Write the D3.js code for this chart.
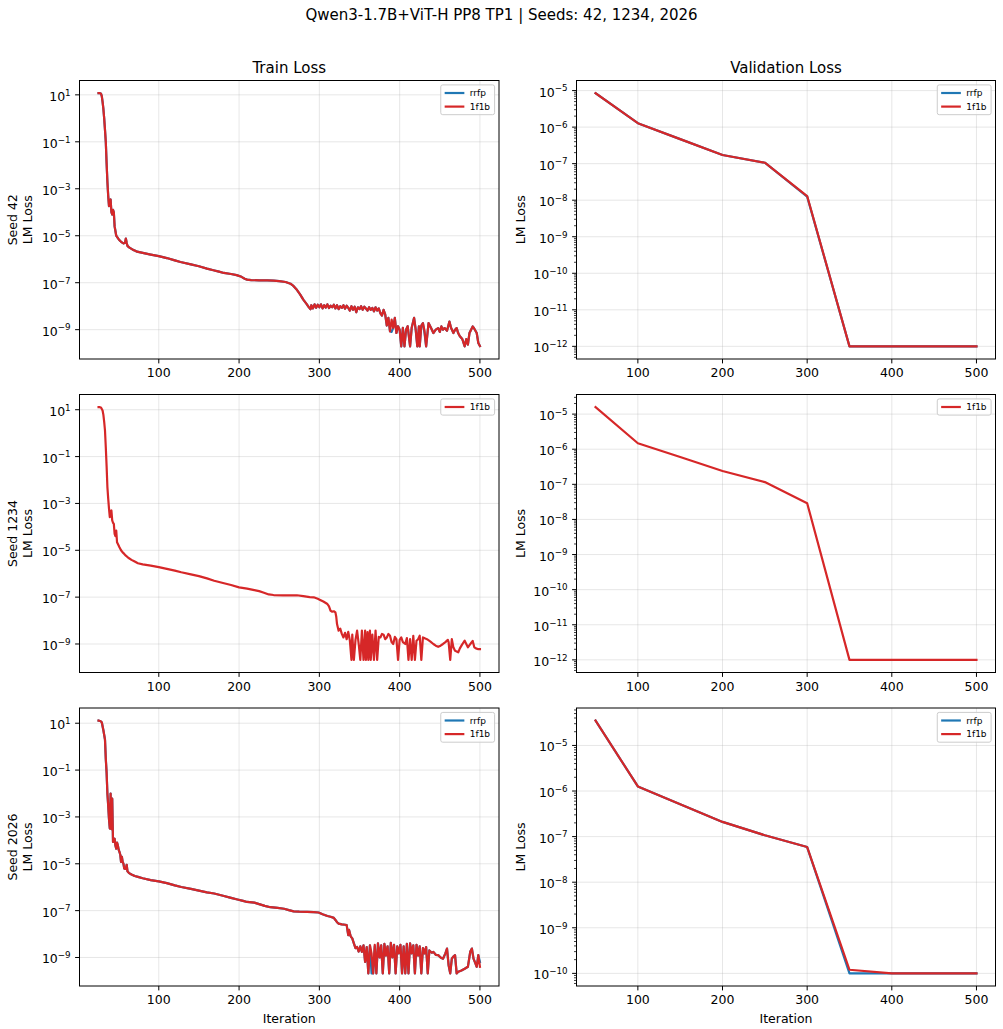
<!DOCTYPE html>
<html><head><meta charset="utf-8">
<script src="https://cdn.jsdelivr.net/npm/d3@7"></script>
<style>body{margin:0;background:#fff} svg{font-family:"DejaVu Sans",sans-serif}</style>
</head><body><svg id="c" width="1003" height="1029"></svg>
<script>
// ---------------- data ----------------
const seeds = [42, 1234, 2026];
const seriesNames = ["rrfp", "1f1b"];
const seriesColors = {"rrfp": "#1f77b4", "1f1b": "#d62728"};
const suptitle = "Qwen3-1.7B+ViT-H PP8 TP1 | Seeds: 42, 1234, 2026";
const colTitles = ["Train Loss", "Validation Loss"];
const xTickValues = [100, 200, 300, 400, 500];
const trainTickExps = [1, -1, -3, -5, -7, -9];

// train loss, [iteration, loss]
const train42_1f1b = [[25,11.8],[26,11.8],[27,11.7],[28,11.2],[29,8.9],[30,5.0],[31,2.5],[32,1.0],[33,0.32],[34,0.1],[35,1.26e-2],[36,2.0e-3],[37,5.0e-4],[38,1.8e-4],[39,2.5e-4],[40,3.5e-4],[41,1.0e-4],[42,8.0e-5],[43,1.26e-4],[44,1.0e-4],[45,2.5e-5],[46,1.6e-5],[47,1.0e-5],[48,8.9e-6],[50,7.1e-6],[52,6.0e-6],[54,5.2e-6],[56,4.7e-6],[58,5.0e-6],[59,7.6e-6],[60,5.0e-6],[61,3.7e-6],[63,3.2e-6],[65,2.9e-6],[68,2.5e-6],[70,2.35e-6],[73,2.1e-6],[80,1.86e-6],[90,1.58e-6],[100,1.35e-6],[110,1.12e-6],[120,8.9e-7],[127,7.6e-7],[140,6.0e-7],[150,5.0e-7],[160,4.0e-7],[168,3.4e-7],[175,2.95e-7],[181,2.6e-7],[190,2.35e-7],[197,2.1e-7],[203,1.78e-7],[207,1.48e-7],[210,1.35e-7],[215,1.29e-7],[225,1.26e-7],[235,1.26e-7],[243,1.23e-7],[250,1.17e-7],[258,1.07e-7],[264,9.1e-8],[268,7.1e-8],[272,5.0e-8],[276,3.2e-8],[280,1.9e-8],[284,1.26e-8],[287,8.9e-9],[289,7.4e-9],[290,1.1e-8],[292,8.0e-9],[294,1.2e-8],[296,8.5e-9],[298,1.15e-8],[300,9.0e-9],[302,1.2e-8],[304,8.0e-9],[306,1.1e-8],[308,8.8e-9],[310,1.2e-8],[312,8.3e-9],[314,1.05e-8],[316,9.0e-9],[318,1.15e-8],[320,8.0e-9],[322,1.1e-8],[324,7.5e-9],[326,1.0e-8],[328,8.5e-9],[330,1.1e-8],[332,7.8e-9],[334,1.05e-8],[336,8.5e-9],[338,6.5e-9],[340,1.0e-8],[342,7.0e-9],[344,9.5e-9],[346,5.5e-9],[348,9.0e-9],[350,7.5e-9],[352,1.0e-8],[354,7.0e-9],[356,9.5e-9],[358,8.0e-9],[360,6.5e-9],[362,9.0e-9],[364,7.0e-9],[366,8.5e-9],[368,6.0e-9],[370,9.0e-9],[372,6.5e-9],[374,8.0e-9],[376,5.0e-9],[378,4.0e-9],[380,7.0e-9],[382,4.5e-9],[384,1.5e-9],[386,3.2e-9],[388,8.5e-10],[390,2.7e-9],[392,1.2e-9],[394,3.2e-9],[396,7.2e-10],[398,1.4e-9],[400,1.0e-9],[402,1.95e-10],[404,1.2e-9],[406,1.95e-10],[408,1.0e-9],[410,1.4e-9],[413,1.95e-10],[415,1.2e-9],[418,3.2e-9],[420,1.0e-9],[422,1.95e-10],[424,1.4e-9],[425,1.95e-10],[427,1.5e-9],[429,1.9e-9],[431,9.0e-10],[433,1.95e-10],[436,1.9e-9],[439,1.2e-9],[442,7.2e-10],[445,1.0e-9],[448,1.17e-9],[450,8.0e-10],[452,1.38e-9],[454,1.0e-9],[456,1.17e-9],[459,9.0e-10],[462,2.2e-9],[464,1.2e-9],[467,7.2e-10],[469,1.0e-9],[471,1.17e-9],[473,7.0e-10],[475,5.2e-10],[478,4.0e-10],[481,1.95e-10],[483,4.0e-10],[485,2.3e-10],[487,7.2e-10],[489,1.0e-9],[491,1.38e-9],[493,1.1e-9],[496,7.2e-10],[498,2.7e-10],[500,2.0e-10]];

const train42_rrfp = [[25,11.8],[26,11.8],[27,11.7],[28,11.2],[29,8.9],[30,5.0],[31,2.5],[32,1.0],[33,0.32],[34,0.1],[35,1.26e-2],[36,2.0e-3],[37,5.0e-4],[38,1.8e-4],[39,2.5e-4],[40,3.5e-4],[41,1.0e-4],[42,8.0e-5],[43,1.26e-4],[44,1.0e-4],[45,2.5e-5],[46,1.6e-5],[47,1.0e-5],[48,8.9e-6],[50,7.1e-6],[52,6.0e-6],[54,5.2e-6],[56,4.7e-6],[58,5.0e-6],[59,7.6e-6],[60,5.0e-6],[61,3.7e-6],[63,3.2e-6],[65,2.9e-6],[68,2.5e-6],[70,2.35e-6],[73,2.1e-6],[80,1.86e-6],[90,1.58e-6],[100,1.35e-6],[110,1.12e-6],[120,8.9e-7],[127,7.6e-7],[140,6.0e-7],[150,5.0e-7],[160,4.0e-7],[168,3.4e-7],[175,2.95e-7],[181,2.6e-7],[190,2.35e-7],[197,2.1e-7],[203,1.78e-7],[207,1.48e-7],[210,1.35e-7],[215,1.29e-7],[225,1.26e-7],[235,1.26e-7],[243,1.23e-7],[250,1.17e-7],[258,1.07e-7],[264,9.1e-8],[268,7.1e-8],[272,5.0e-8],[276,3.2e-8],[280,1.9e-8],[284,1.26e-8],[287,8.9e-9],[289,7.4e-9],[290,1.1e-8],[292,8.0e-9],[294,1.2e-8],[296,8.5e-9],[298,1.15e-8],[300,9.0e-9],[302,1.2e-8],[304,8.0e-9],[306,1.1e-8],[308,8.8e-9],[310,1.2e-8],[312,8.3e-9],[314,1.05e-8],[316,9.0e-9],[318,1.15e-8],[320,8.0e-9],[322,1.1e-8],[324,7.5e-9],[326,1.0e-8],[328,8.5e-9],[330,1.1e-8],[332,7.8e-9],[334,1.05e-8],[336,8.5e-9],[338,6.5e-9],[340,1.0e-8],[342,7.0e-9],[344,9.5e-9],[346,5.5e-9],[348,9.0e-9],[350,7.5e-9],[352,1.0e-8],[354,7.0e-9],[356,9.5e-9],[358,8.0e-9],[360,6.5e-9],[362,9.0e-9],[364,7.0e-9],[366,8.5e-9],[368,6.0e-9],[370,9.0e-9],[372,6.5e-9],[374,8.0e-9],[376,5.0e-9],[378,4.0e-9],[380,7.0e-9],[382,4.5e-9],[384,1.5e-9],[386,3.2e-9],[388,8.5e-10],[390,8.0e-10],[392,1.2e-9],[394,3.2e-9],[396,7.2e-10],[398,1.4e-9],[400,1.0e-9],[402,1.95e-10],[404,1.2e-9],[406,1.95e-10],[408,1.0e-9],[410,1.4e-9],[413,1.95e-10],[415,1.2e-9],[418,3.2e-9],[420,1.0e-9],[422,1.95e-10],[424,1.4e-9],[425,1.95e-10],[427,1.5e-9],[429,1.9e-9],[431,7.0e-10],[433,1.95e-10],[436,1.9e-9],[439,1.2e-9],[442,7.2e-10],[445,1.0e-9],[448,1.17e-9],[450,8.0e-10],[452,1.38e-9],[454,1.0e-9],[456,1.17e-9],[459,9.0e-10],[462,2.2e-9],[464,1.2e-9],[467,7.2e-10],[469,1.0e-9],[471,1.17e-9],[473,7.0e-10],[475,5.2e-10],[478,4.0e-10],[481,1.95e-10],[483,4.0e-10],[485,2.3e-10],[487,7.2e-10],[489,1.0e-9],[491,1.38e-9],[493,1.1e-9],[496,7.2e-10],[498,2.7e-10],[500,2.0e-10]];

const train1234_1f1b = [[25,12.9],[26,12.9],[28,12.5],[30,9.3],[31,6.0],[32,3.0],[33,1.3],[34,0.25],[35,0.04],[36,5.0e-3],[37,1.6e-3],[38,6.0e-4],[39,2.6e-4],[40,4.0e-4],[41,5.0e-4],[42,1.9e-4],[43,1.5e-4],[44,1.35e-4],[45,5.0e-5],[46,4.0e-5],[47,6.9e-5],[48,2.2e-5],[50,1.6e-5],[51,1.35e-5],[53,1.0e-5],[55,8.1e-6],[57,7.0e-6],[59,5.9e-6],[62,4.8e-6],[66,3.9e-6],[70,3.3e-6],[74,2.8e-6],[80,2.5e-6],[90,2.2e-6],[100,1.9e-6],[110,1.6e-6],[120,1.35e-6],[128,1.15e-6],[140,9.3e-7],[150,7.9e-7],[160,6.3e-7],[169,5.0e-7],[180,4.0e-7],[190,3.3e-7],[200,2.6e-7],[210,2.3e-7],[219,2.0e-7],[225,1.8e-7],[231,1.55e-7],[237,1.3e-7],[243,1.23e-7],[255,1.2e-7],[265,1.2e-7],[272,1.2e-7],[280,1.1e-7],[288,1.0e-7],[293,9.8e-8],[298,8.5e-8],[301,7.6e-8],[305,6.5e-8],[310,5.1e-8],[312,4.0e-8],[314,2.6e-8],[316,2.4e-8],[318,2.5e-8],[320,2.24e-8],[321,1.5e-8],[322,7.1e-9],[324,3.7e-9],[326,4.5e-9],[328,2.7e-9],[330,1.9e-9],[332,3.0e-9],[334,1.6e-9],[336,3.3e-9],[338,1.4e-9],[340,2.1e-10],[341,2.5e-9],[343,2.1e-10],[345,1.5e-9],[347,3.7e-9],[349,1.0e-9],[351,2.1e-10],[353,3.7e-9],[355,2.1e-10],[357,3.7e-9],[358,2.1e-10],[360,3.2e-9],[361,2.1e-10],[363,3.7e-9],[364,2.1e-10],[366,2.5e-9],[368,2.1e-10],[370,3.7e-9],[372,2.1e-10],[374,2.0e-9],[376,1.9e-9],[378,2.7e-9],[380,2.5e-9],[382,1.6e-9],[384,1.9e-9],[386,2.7e-9],[388,2.25e-9],[390,1.2e-9],[392,1.0e-9],[394,2.0e-9],[396,1.6e-9],[398,2.1e-10],[400,1.5e-9],[402,1.9e-9],[404,1.2e-9],[407,1.0e-9],[409,1.8e-9],[411,2.1e-10],[413,1.6e-9],[415,2.1e-10],[417,2.25e-9],[419,2.1e-10],[421,1.38e-9],[423,1.6e-9],[425,2.25e-9],[427,2.1e-10],[429,1.9e-9],[432,1.7e-9],[434,1.6e-9],[438,1.3e-9],[442,1.0e-9],[445,8.5e-10],[448,7.6e-10],[451,8.5e-10],[454,1.0e-9],[457,1.2e-9],[460,1.5e-9],[461,1.2e-9],[463,2.1e-10],[465,1.6e-9],[467,7.0e-10],[469,5.1e-10],[471,4.8e-10],[473,4.4e-10],[475,6.5e-10],[477,8.5e-10],[479,1.1e-9],[481,1.38e-9],[483,1.0e-9],[485,7.2e-10],[487,9.0e-10],[489,1.1e-9],[491,1.35e-9],[493,7.2e-10],[495,6.5e-10],[498,6.0e-10],[500,6.0e-10]];

const train2026_1f1b = [[25,12.9],[27,12.5],[29,11.0],[31,5.0],[33,2.0],[34,0.3],[35,0.08],[36,0.01],[37,3.0e-3],[38,8.0e-4],[39,3.2e-4],[40,1.0e-2],[41,3.0e-4],[42,6.0e-3],[43,8.5e-5],[44,1.2e-4],[45,1.17e-4],[46,6.0e-5],[47,4.4e-5],[48,8.0e-5],[49,6.2e-5],[50,4.0e-5],[51,3.2e-5],[52,2.5e-5],[53,1.2e-5],[54,2.0e-5],[55,1.2e-5],[56,1.0e-5],[57,6.2e-6],[59,6.0e-6],[60,9.1e-6],[61,4.8e-6],[63,4.0e-6],[66,3.5e-6],[70,3.0e-6],[74,2.75e-6],[80,2.4e-6],[90,2.0e-6],[100,1.78e-6],[110,1.5e-6],[120,1.2e-6],[128,1.02e-6],[140,8.5e-7],[150,7.2e-7],[160,6.0e-7],[169,5.4e-7],[180,4.3e-7],[190,3.5e-7],[198,3.0e-7],[205,2.6e-7],[210,2.35e-7],[219,2.2e-7],[225,1.9e-7],[232,1.6e-7],[239,1.4e-7],[248,1.3e-7],[256,1.2e-7],[262,1.05e-7],[268,9.3e-8],[275,9.0e-8],[285,8.9e-8],[293,8.7e-8],[299,8.3e-8],[304,7.0e-8],[310,5.9e-8],[314,5.5e-8],[318,4.9e-8],[320,4.0e-8],[322,3.2e-8],[324,2.8e-8],[328,2.6e-8],[332,2.5e-8],[334,2.4e-8],[336,9.0e-9],[337,1.5e-8],[339,8.0e-9],[341,6.5e-9],[343,4.0e-9],[345,2.5e-9],[347,2.8e-9],[349,1.8e-9],[351,3.0e-9],[353,1.74e-9],[355,3.3e-9],[357,6.5e-10],[359,2.8e-9],[361,2.1e-10],[363,3.3e-9],[365,1.5e-9],[367,2.1e-10],[369,3.5e-9],[371,2.1e-10],[373,4.0e-9],[375,1.0e-9],[377,3.3e-9],[379,2.1e-10],[381,3.8e-9],[383,1.2e-9],[385,3.0e-9],[387,2.1e-10],[389,4.2e-9],[391,1.0e-9],[393,3.5e-9],[395,2.1e-10],[397,3.0e-9],[399,1.5e-9],[401,3.5e-9],[403,2.1e-10],[405,3.0e-9],[407,2.1e-10],[409,3.8e-9],[411,2.1e-10],[413,4.0e-9],[415,1.5e-9],[417,3.3e-9],[419,2.1e-10],[421,3.5e-9],[423,1.2e-9],[425,3.0e-9],[427,2.1e-10],[429,2.5e-9],[431,1.5e-9],[433,2.8e-9],[435,2.1e-10],[437,2.0e-9],[440,1.6e-9],[442,1.74e-9],[445,1.3e-9],[448,1.26e-9],[451,1.0e-9],[454,8.9e-10],[457,1.5e-9],[459,2.4e-9],[461,4.7e-10],[463,2.1e-10],[465,8.9e-10],[467,1.1e-9],[469,1.26e-9],[471,2.1e-10],[473,2.45e-10],[477,2.8e-10],[481,3.3e-10],[485,4.0e-10],[488,1.8e-9],[490,2.4e-9],[492,8.9e-10],[494,6.0e-10],[496,4.0e-10],[498,1.26e-9],[500,4.0e-10]];

const train2026_rrfp = [[25,12.9],[27,12.5],[29,11.0],[31,5.0],[33,2.0],[34,0.3],[35,0.08],[36,0.01],[37,3.0e-3],[38,8.0e-4],[39,3.2e-4],[40,1.0e-2],[41,3.0e-4],[42,6.0e-3],[43,8.5e-5],[44,1.2e-4],[45,1.17e-4],[46,6.0e-5],[47,4.4e-5],[48,8.0e-5],[49,6.2e-5],[50,4.0e-5],[51,3.2e-5],[52,2.5e-5],[53,1.2e-5],[54,2.0e-5],[55,1.2e-5],[56,1.0e-5],[57,6.2e-6],[59,6.0e-6],[60,9.1e-6],[61,4.8e-6],[63,4.0e-6],[66,3.5e-6],[70,3.0e-6],[74,2.75e-6],[80,2.4e-6],[90,2.0e-6],[100,1.78e-6],[110,1.5e-6],[120,1.2e-6],[128,1.02e-6],[140,8.5e-7],[150,7.2e-7],[160,6.0e-7],[169,5.4e-7],[180,4.3e-7],[190,3.5e-7],[198,3.0e-7],[205,2.6e-7],[210,2.35e-7],[219,2.2e-7],[225,1.9e-7],[232,1.6e-7],[239,1.4e-7],[248,1.3e-7],[256,1.2e-7],[262,1.05e-7],[268,9.3e-8],[275,9.0e-8],[285,8.9e-8],[293,8.7e-8],[299,8.3e-8],[304,7.0e-8],[310,5.9e-8],[314,5.5e-8],[318,4.9e-8],[320,4.0e-8],[322,3.2e-8],[324,2.8e-8],[328,2.6e-8],[332,2.5e-8],[334,2.4e-8],[336,9.0e-9],[337,1.5e-8],[339,8.0e-9],[341,6.5e-9],[343,4.0e-9],[345,2.5e-9],[347,2.8e-9],[349,1.8e-9],[351,3.0e-9],[353,1.74e-9],[355,3.3e-9],[357,6.5e-10],[359,2.8e-9],[361,2.1e-10],[363,3.3e-9],[365,2.1e-10],[367,2.1e-10],[369,3.0e-9],[371,2.1e-10],[373,4.0e-9],[375,1.0e-9],[377,3.3e-9],[379,2.1e-10],[381,3.8e-9],[383,1.2e-9],[385,3.0e-9],[387,2.1e-10],[389,4.2e-9],[391,1.0e-9],[393,3.5e-9],[395,2.1e-10],[397,3.0e-9],[399,1.5e-9],[401,3.5e-9],[403,2.1e-10],[405,3.0e-9],[407,2.1e-10],[409,3.8e-9],[411,2.1e-10],[413,4.0e-9],[415,1.5e-9],[417,3.3e-9],[419,2.1e-10],[421,3.5e-9],[423,1.2e-9],[425,3.0e-9],[427,2.1e-10],[429,2.5e-9],[431,1.5e-9],[433,2.8e-9],[435,2.1e-10],[437,2.0e-9],[440,1.6e-9],[442,1.74e-9],[445,1.3e-9],[448,1.26e-9],[451,1.0e-9],[454,8.9e-10],[457,1.5e-9],[459,2.4e-9],[461,4.7e-10],[463,2.1e-10],[465,8.9e-10],[467,1.1e-9],[469,1.26e-9],[471,2.1e-10],[473,2.45e-10],[477,2.8e-10],[481,3.3e-10],[485,4.0e-10],[488,1.8e-9],[490,2.4e-9],[492,8.9e-10],[494,6.0e-10],[496,4.0e-10],[498,1.26e-9],[500,6.5e-10]];

// validation loss
const valIters = [50, 100, 150, 200, 250, 300, 350, 400, 450, 500];
const val42_rrfp   = [8.5e-6, 1.28e-6, 4.7e-7, 1.73e-7, 1.06e-7, 1.25e-8, 1e-12, 1e-12, 1e-12, 1e-12];
const val42_1f1b   = [8.5e-6, 1.28e-6, 4.7e-7, 1.73e-7, 1.06e-7, 1.3e-8, 1e-12, 1e-12, 1e-12, 1e-12];
const val1234_1f1b = [1.58e-5, 1.48e-6, 6.0e-7, 2.4e-7, 1.16e-7, 2.9e-8, 1e-12, 1e-12, 1e-12, 1e-12];
const val2026_rrfp = [3.5e-5, 1.26e-6, 5.1e-7, 2.1e-7, 1.07e-7, 5.9e-8, 1.0e-10, 1.0e-10, 1.0e-10, 1.0e-10];
const val2026_1f1b = [3.5e-5, 1.26e-6, 5.1e-7, 2.1e-7, 1.07e-7, 5.9e-8, 1.2e-10, 1.0e-10, 1.0e-10, 1.0e-10];

// panel table built from the arrays
const zipVal = arr => valIters.map((it, i) => [it, arr[i]]);
const panels = [
  {row: 0, col: 0, seed: 42,   series: {rrfp: train42_rrfp, "1f1b": train42_1f1b}},
  {row: 0, col: 1, seed: 42,   series: {rrfp: zipVal(val42_rrfp), "1f1b": zipVal(val42_1f1b)}},
  {row: 1, col: 0, seed: 1234, series: {"1f1b": train1234_1f1b}},
  {row: 1, col: 1, seed: 1234, series: {"1f1b": zipVal(val1234_1f1b)}},
  {row: 2, col: 0, seed: 2026, series: {rrfp: train2026_rrfp, "1f1b": train2026_1f1b}},
  {row: 2, col: 1, seed: 2026, series: {rrfp: zipVal(val2026_rrfp), "1f1b": zipVal(val2026_1f1b)}}
];

// ---------------- layout ----------------
const colX = [[79.5, 499], [576.5, 995.5]];
const rowY = [[80.5, 359], [394.5, 672.5], [708, 986]];
const FS_TICK = 12.5, FS_TITLE = 15, FS_LEG = 9;
const TICK_MAJ = 4.4, TICK_MIN = 2.5, TICK_PAD = 4.4;

const svg = d3.select("#c");
svg.append("rect").attr("width", 1003).attr("height", 1029).attr("fill", "#fff");

svg.append("text").attr("x", 501.5).attr("y", 19.5).attr("text-anchor", "middle")
  .attr("font-size", FS_TITLE).attr("fill", "#000").text(suptitle);

function supLabel(sel, exp) {
  sel.append("tspan").text("10");
  sel.append("tspan").attr("dy", -5.2).attr("font-size", FS_TICK * 0.7)
    .text(exp < 0 ? "\u2212" + Math.abs(exp) : String(exp));
}

panels.forEach((p, idx) => {
  const [x0, x1] = colX[p.col];
  const [y0, y1] = rowY[p.row];
  const names = seriesNames.filter(n => p.series[n]);
  const all = names.flatMap(n => p.series[n]);
  const itExt = d3.extent(all, d => d[0]);
  const lgExt = d3.extent(all, d => Math.log10(d[1]));
  const xr = itExt[1] - itExt[0], yr = lgExt[1] - lgExt[0];
  const x = d3.scaleLinear().domain([itExt[0] - 0.05 * xr, itExt[1] + 0.05 * xr]).range([x0, x1]);
  const y = d3.scaleLog().domain([Math.pow(10, lgExt[0] - 0.05 * yr), Math.pow(10, lgExt[1] + 0.05 * yr)]).range([y1, y0]);

  const g = svg.append("g");
  const clipId = "clip" + idx;
  g.append("clipPath").attr("id", clipId).append("rect")
    .attr("x", x0).attr("y", y0).attr("width", x1 - x0).attr("height", y1 - y0);

  // major y ticks
  const [dLo, dHi] = y.domain();
  const eLo = Math.ceil(Math.log10(dLo) - 1e-9), eHi = Math.floor(Math.log10(dHi) + 1e-9);
  let majorExps = [];
  if (p.col === 0) majorExps = trainTickExps.filter(e => e >= eLo && e <= eHi);
  else for (let e = eLo; e <= eHi; e++) majorExps.push(e);
  const minorVals = [];
  if (p.col === 1) {
    for (let e = eLo - 1; e <= eHi; e++) for (let k = 2; k <= 9; k++) {
      const v = k * Math.pow(10, e);
      if (v >= dLo && v <= dHi) minorVals.push(v);
    }
  }

  // grid
  const grid = g.append("g").attr("stroke", "#b0b0b0").attr("stroke-opacity", 0.3).attr("stroke-width", 1);
  xTickValues.forEach(t => grid.append("line").attr("x1", x(t)).attr("x2", x(t)).attr("y1", y0).attr("y2", y1));
  majorExps.forEach(e => grid.append("line").attr("x1", x0).attr("x2", x1).attr("y1", y(Math.pow(10, e))).attr("y2", y(Math.pow(10, e))));

  // lines
  const line = d3.line().x(d => x(d[0])).y(d => y(d[1]));
  const lg = g.append("g").attr("clip-path", `url(#${clipId})`);
  names.forEach(n => {
    lg.append("path").datum(p.series[n]).attr("d", line).attr("fill", "none")
      .attr("stroke", seriesColors[n]).attr("stroke-width", 2.2)
      .attr("stroke-linejoin", "round").attr("stroke-linecap", "square");
  });

  // ticks
  const tg = g.append("g").attr("stroke", "#000").attr("stroke-width", 1);
  xTickValues.forEach(t => tg.append("line").attr("x1", x(t)).attr("x2", x(t)).attr("y1", y1).attr("y2", y1 + TICK_MAJ));
  majorExps.forEach(e => tg.append("line").attr("x1", x0 - TICK_MAJ).attr("x2", x0).attr("y1", y(Math.pow(10, e))).attr("y2", y(Math.pow(10, e))));
  minorVals.forEach(v => tg.append("line").attr("x1", x0 - TICK_MIN).attr("x2", x0).attr("y1", y(v)).attr("y2", y(v)).attr("stroke-width", 0.75));

  xTickValues.forEach(t => g.append("text").attr("x", x(t)).attr("y", y1 + TICK_MAJ + TICK_PAD + 9.3)
    .attr("text-anchor", "middle").attr("font-size", FS_TICK).attr("fill", "#000").text(t));
  majorExps.forEach(e => {
    const tx = g.append("text").attr("x", x0 - TICK_MAJ - TICK_PAD).attr("y", y(Math.pow(10, e)) + 6)
      .attr("text-anchor", "end").attr("font-size", FS_TICK).attr("fill", "#000");
    supLabel(tx, e);
  });

  // spines
  g.append("rect").attr("x", x0).attr("y", y0).attr("width", x1 - x0).attr("height", y1 - y0)
    .attr("fill", "none").attr("stroke", "#000").attr("stroke-width", 1);

  // titles & labels
  if (p.row === 0) {
    g.append("text").attr("x", (x0 + x1) / 2).attr("y", y0 - 7.5).attr("text-anchor", "middle")
      .attr("font-size", FS_TITLE).attr("fill", "#000").text(colTitles[p.col]);
  }
  if (p.row === 2) {
    g.append("text").attr("x", (x0 + x1) / 2).attr("y", 1023).attr("text-anchor", "middle")
      .attr("font-size", FS_TICK).attr("fill", "#000").text("Iteration");
  }
  const cy = (y0 + y1) / 2;
  if (p.col === 0) {
    g.append("text").attr("transform", `translate(16.5,${cy}) rotate(-90)`).attr("text-anchor", "middle")
      .attr("font-size", FS_TICK).attr("fill", "#000").text("Seed " + p.seed);
    g.append("text").attr("transform", `translate(31.5,${cy}) rotate(-90)`).attr("text-anchor", "middle")
      .attr("font-size", FS_TICK).attr("fill", "#000").text("LM Loss");
  } else {
    g.append("text").attr("transform", `translate(524.5,${cy}) rotate(-90)`).attr("text-anchor", "middle")
      .attr("font-size", FS_TICK).attr("fill", "#000").text("LM Loss");
  }

  // legend
  const leg = g.append("g");
  const box = leg.append("rect");
  const rowH = 9.2, gap = 4.4, pad = 3.5, handle = 17.5, textPad = 7;
  const texts = [];
  names.forEach((n, i) => {
    const cyL = y0 + 4.4 + pad + rowH / 2 + i * (rowH + gap);
    texts.push(leg.append("text").attr("y", cyL + 3.3).attr("font-size", FS_LEG).attr("fill", "#000").text(n));
  });
  const tw = d3.max(texts, t => t.node().getComputedTextLength());
  const bw = pad + handle + textPad + tw + pad + 2;
  const bx = x1 - 4.4 - bw;
  const bh = pad * 2 + names.length * rowH + (names.length - 1) * gap;
  box.attr("x", bx).attr("y", y0 + 4.4).attr("width", bw).attr("height", bh).attr("rx", 2)
    .attr("fill", "#fff").attr("fill-opacity", 0.8).attr("stroke", "#cccccc").attr("stroke-width", 1);
  names.forEach((n, i) => {
    const cyL = y0 + 4.4 + pad + rowH / 2 + i * (rowH + gap);
    leg.append("line").attr("x1", bx + pad + 1.5).attr("x2", bx + pad + 1.5 + handle).attr("y1", cyL).attr("y2", cyL)
      .attr("stroke", seriesColors[n]).attr("stroke-width", 2.2).attr("stroke-linecap", "square");
    texts[i].attr("x", bx + pad + handle + textPad + 1);
  });
});
</script></body></html>
